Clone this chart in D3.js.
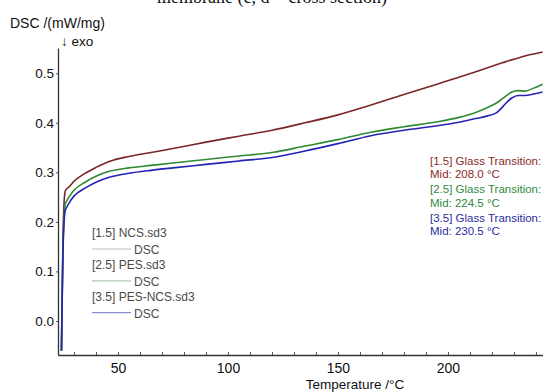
<!DOCTYPE html>
<html>
<head>
<meta charset="utf-8">
<script src="https://cdn.jsdelivr.net/npm/d3@7"></script>
<style>
  body { margin: 0; background: #fff; }
  svg { display: block; }
  text { font-family: "Liberation Sans", Arial, sans-serif; }
</style>
</head>
<body>
<svg id="chart" width="543" height="392"></svg>
<script>
// # DATA
// # ------------------------------
var temperature = [24.3, 24.6, 25, 25.5, 26, 27, 28, 30, 35, 40, 46, 55, 65, 75, 90, 105,
                   120, 135, 150, 165, 180, 195, 205, 212, 218, 222, 224, 226, 229, 232, 235, 239, 243];

var dsc_ncs     = [-0.06, 0.05, 0.17, 0.24, 0.262, 0.268, 0.272, 0.282, 0.298, 0.310, 0.322, 0.332, 0.340, 0.348, 0.361, 0.373,
                   0.385, 0.400, 0.416, 0.436, 0.457, 0.478, 0.492, 0.502, 0.511, 0.517, 0.520, 0.523, 0.527, 0.531, 0.535, 0.539, 0.543];
var dsc_pes     = [-0.06, 0.04, 0.15, 0.21, 0.235, 0.245, 0.252, 0.264, 0.280, 0.292, 0.302, 0.309, 0.314, 0.319, 0.326, 0.333,
                   0.340, 0.353, 0.366, 0.381, 0.392, 0.402, 0.411, 0.420, 0.431, 0.440, 0.446, 0.453, 0.462, 0.465, 0.464, 0.470, 0.478];
var dsc_pes_ncs = [-0.06, 0.03, 0.14, 0.20, 0.222, 0.232, 0.240, 0.252, 0.268, 0.280, 0.290, 0.298, 0.304, 0.309, 0.316, 0.323,
                   0.330, 0.343, 0.358, 0.374, 0.385, 0.394, 0.401, 0.408, 0.414, 0.420, 0.428, 0.438, 0.450, 0.455, 0.455, 0.458, 0.462];

var series_names  = ["[1.5] NCS.sd3", "[2.5] PES.sd3", "[3.5] PES-NCS.sd3"];
var series_colors = ["#7a2626", "#2f8a34", "#2424b4"];
var legend_colors = ["#b9c0b9", "#b3c6b3", "#8a8ad0"];
var gt_labels     = ["[1.5] Glass Transition:", "[2.5] Glass Transition:", "[3.5] Glass Transition:"];
var gt_mid        = ["Mid:  208.0 °C", "Mid:  224.5 °C", "Mid:  230.5 °C"];
var gt_colors     = ["#8a2b2b", "#2f8a3e", "#2c2ca0"];

var x_ticks       = [30, 40, 50, 60, 70, 80, 90, 100, 110, 120, 130, 140, 150, 160, 170, 180, 190, 200, 210, 220, 230, 240];
var x_labels      = [50, 100, 150, 200];
var y_ticks       = [0.0, 0.1, 0.2, 0.3, 0.4, 0.5];

// # SCALES
// # ------------------------------
var svg = d3.select("#chart");

var x = d3.scaleLinear().domain([22.73, 243.2]).range([58, 543]);
var y = d3.scaleLinear().domain([-0.0687, 0.551]).range([355, 48]);

// ## title (cut off at top, as in the source figure)
svg.append("text")
   .attr("x", 272)
   .attr("y", 2.5)
   .attr("text-anchor", "middle")
   .style("font-family", "'Liberation Serif', 'Times New Roman', serif")
   .style("font-size", "18px")
   .attr("fill", "#111")
   .text("membrane (c, d = cross section)");

// ## axes
var xAxis = d3.axisBottom(x)
    .tickValues(x_ticks)
    .tickSize(-3)
    .tickSizeOuter(0)
    .tickFormat(function(d) { return x_labels.indexOf(d) >= 0 ? d : ""; });

var gx = svg.append("g")
    .attr("transform", "translate(0,355)")
    .call(xAxis);
gx.select(".domain").attr("stroke", "#333").attr("stroke-width", 1.3);
gx.selectAll(".tick line").attr("stroke", "#555");
gx.selectAll(".tick text")
  .attr("y", 8)
  .style("font-size", "14px")
  .attr("fill", "#111");

var yAxis = d3.axisLeft(y)
    .tickValues(y_ticks)
    .tickSize(2)
    .tickSizeOuter(0)
    .tickFormat(d3.format(".1f"));

var gy = svg.append("g")
    .attr("transform", "translate(58,0)")
    .call(yAxis);
gy.select(".domain").attr("stroke", "#333").attr("stroke-width", 1.3);
gy.selectAll(".tick line").attr("stroke", "#555");
gy.selectAll(".tick text")
  .attr("x", -4)
  .style("font-size", "13.5px")
  .attr("fill", "#111");

// ## axis labels
svg.append("text")
   .attr("x", 10)
   .attr("y", 28)
   .style("font-size", "14px")
   .attr("fill", "#111")
   .text("DSC /(mW/mg)");

svg.append("text")
   .attr("x", 61)
   .attr("y", 46)
   .style("font-size", "13.5px")
   .attr("fill", "#111")
   .text("\u2193 exo");

svg.append("text")
   .attr("x", 355)
   .attr("y", 389)
   .attr("text-anchor", "middle")
   .style("font-size", "13.5px")
   .attr("fill", "#111")
   .text("Temperature /°C");

// ## curves
var line = d3.line()
    .x(function(d) { return x(d[0]); })
    .y(function(d) { return y(d[1]); })
    .curve(d3.curveMonotoneX);

var all_series = [dsc_ncs, dsc_pes, dsc_pes_ncs];

svg.append("defs").append("clipPath").attr("id", "plot-clip")
   .append("rect").attr("x", 58).attr("y", 40).attr("width", 485).attr("height", 315);

var gc = svg.append("g").attr("clip-path", "url(#plot-clip)");
for (var i = 0; i < all_series.length; i++) {
  gc.append("path")
    .datum(d3.zip(temperature, all_series[i]))
    .attr("d", line)
    .attr("fill", "none")
    .attr("stroke", series_colors[i])
    .attr("stroke-width", 1.6);
}

// ## legend
var legend = svg.append("g").attr("transform", "translate(92,0)");
for (var i = 0; i < series_names.length; i++) {
  var y0 = 237 + i * 31.8;
  legend.append("text")
        .attr("x", 0)
        .attr("y", y0)
        .style("font-size", "12px")
        .attr("fill", "#4a4a4a")
        .text(series_names[i]);
  legend.append("line")
        .attr("x1", 0).attr("x2", 39)
        .attr("y1", y0 + 12).attr("y2", y0 + 12)
        .attr("stroke", legend_colors[i])
        .attr("stroke-width", 1.2);
  legend.append("text")
        .attr("x", 42)
        .attr("y", y0 + 17)
        .style("font-size", "12px")
        .attr("fill", "#4a4a4a")
        .text("DSC");
}

// ## glass transition notes
for (var i = 0; i < gt_labels.length; i++) {
  var y1 = 164.5 + i * 28.7;
  svg.append("text")
     .attr("x", 430)
     .attr("y", y1)
     .style("font-size", "11.5px")
     .attr("fill", gt_colors[i])
     .text(gt_labels[i]);
  svg.append("text")
     .attr("x", 430)
     .attr("y", y1 + 13.3)
     .style("font-size", "11.5px")
     .attr("fill", gt_colors[i])
     .text(gt_mid[i]);
}
</script>
</body>
</html>
